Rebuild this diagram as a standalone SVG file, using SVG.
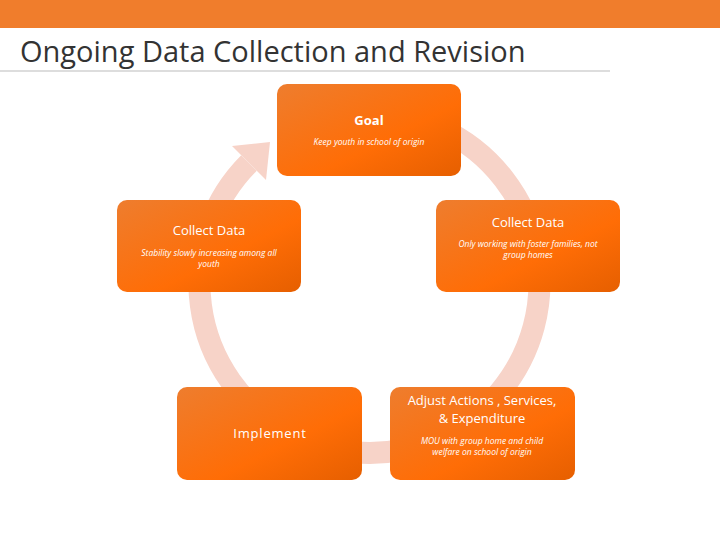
<svg xmlns="http://www.w3.org/2000/svg" width="720" height="540" viewBox="0 0 720 540">
<defs>
<linearGradient id="g" x1="0" y1="0" x2="1" y2="1">
<stop offset="0" stop-color="#ee7d2e"/><stop offset="0.6" stop-color="#ff6d06"/><stop offset="1" stop-color="#e65f00"/>
</linearGradient>
</defs>
<style>
.n{fill:url(#g)}
.t{font-family:"Open Sans",sans-serif;fill:#fff;text-anchor:middle;font-size:13px}
.s{font-family:"Open Sans",sans-serif;fill:#fff;text-anchor:middle;font-size:8.5px;font-style:italic}
</style>
<rect x="0" y="0" width="720" height="28" fill="#f07d2c"/>
<text x="20" y="62" font-family="Open Sans, sans-serif" font-size="29" fill="#333">Ongoing Data Collection and Revision</text>
<line x1="0" y1="71" x2="610" y2="71" stroke="#bbb" stroke-width="1"/>
<g id="connectors">
<path d="M369,113 A170,170 0 1 1 249,163" fill="none" stroke="#f7d3c8" stroke-width="22"/>
<polygon points="270,142 232,146 266,180" fill="#f7d3c8"/>
</g>
<g id="goal"><rect class="n" x="277" y="84" width="184" height="92" rx="10"/>
<text class="t" x="369" y="125" font-weight="bold">Goal</text>
<text class="s" x="369" y="145">Keep youth in school of origin</text></g>
<g id="collect-left"><rect class="n" x="117" y="200" width="184" height="92" rx="10"/>
<text class="t" x="209" y="235">Collect Data</text>
<text class="s" x="209" y="256">Stability slowly increasing among all</text>
<text class="s" x="209" y="267">youth</text></g>
<g id="collect-right"><rect class="n" x="436" y="200" width="184" height="92" rx="10"/>
<text class="t" x="528" y="227">Collect Data</text>
<text class="s" x="528" y="247">Only working with foster families, not</text>
<text class="s" x="528" y="258">group homes</text></g>
<g id="implement"><rect class="n" x="177" y="387" width="185" height="93" rx="10"/>
<text class="t" x="270" y="438" letter-spacing="0.8">Implement</text></g>
<g id="adjust"><rect class="n" x="390" y="387" width="185" height="93" rx="10"/>
<text class="t" x="482" y="405">Adjust Actions , Services,</text>
<text class="t" x="482" y="423">&amp; Expenditure</text>
<text class="s" x="482" y="444">MOU with group home and child</text>
<text class="s" x="482" y="455">welfare on school of origin</text></g>
</svg>
